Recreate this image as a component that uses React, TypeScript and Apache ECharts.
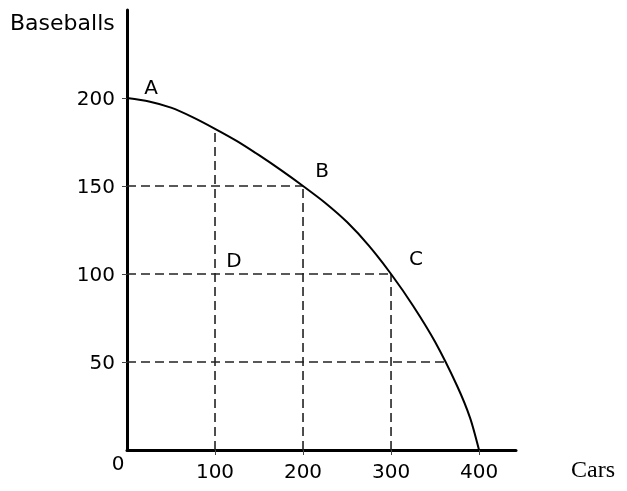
import React, { useEffect, useRef } from "react";
import * as echarts from "echarts";

// Production possibilities frontier
const curveX = [0, 25, 50, 75, 100, 125, 150, 175, 200, 225, 250, 275, 300, 325, 350, 375, 390, 400];
const curveY = [200, 198, 194.5, 189, 182.5, 175.5, 167.5, 159, 150, 140.5, 129.5, 116, 100, 82, 61.5, 36.5, 18, 0];

// Labelled points
const pointNames = ["A", "B", "C", "D"];
const pointX = [0, 200, 300, 100];
const pointY = [200, 150, 100, 100];

// Dashed guides
const verticalGuideX = [100, 200, 300];
const verticalGuideTop = [182.5, 150, 100];
const horizontalGuideY = [150, 100, 50];
const horizontalGuideEnd = [200, 300, 362];

// Tick labels
const xTicks = [100, 200, 300, 400];
const yTicks = [50, 100, 150, 200];

const FONT = "DejaVu Sans";

export default function App() {
  const ref = useRef<HTMLDivElement>(null);
  useEffect(() => {
    if (!ref.current) return;
    const chart = echarts.init(ref.current, undefined, { renderer: "svg" });
    const labelOffsets: Record<string, number[]> = {
      A: [24, -13],
      B: [19, -18],
      C: [25, -18],
      D: [19, -16],
    };
    const dashStyle = { color: "#222", width: 1.6, type: [9, 5] as any };
    const guides: any[] = [];
    verticalGuideX.forEach((x, i) => {
      guides.push({
        type: "line",
        data: [[x, 0], [x, verticalGuideTop[i]]],
        symbol: "none",
        lineStyle: dashStyle,
        silent: true,
        z: 1,
      });
    });
    horizontalGuideY.forEach((y, i) => {
      guides.push({
        type: "line",
        data: [[0, y], [horizontalGuideEnd[i], y]],
        symbol: "none",
        lineStyle: dashStyle,
        silent: true,
        z: 1,
      });
    });
    chart.setOption({
      animation: false,
      grid: { left: 127, right: 111, top: 10, bottom: 41, containLabel: false },
      xAxis: {
        type: "value",
        min: 0,
        max: 442,
        interval: 100,
        splitLine: { show: false },
        axisLine: { show: true, lineStyle: { color: "#000", width: 3 } },
        axisTick: {
          show: true,
          length: 5,
          customValues: xTicks,
          lineStyle: { color: "#444", width: 1 },
        },
        axisLabel: {
          customValues: xTicks,
          margin: 11,
          color: "#000",
          fontFamily: FONT,
          fontSize: 20,
          formatter: (v: number) => (xTicks.includes(v) ? String(v) : ""),
        },
      },
      yAxis: {
        type: "value",
        min: 0,
        max: 250,
        interval: 50,
        splitLine: { show: false },
        axisLine: { show: true, lineStyle: { color: "#000", width: 3 } },
        axisTick: {
          show: true,
          length: 5,
          customValues: yTicks,
          lineStyle: { color: "#444", width: 1 },
        },
        axisLabel: {
          customValues: yTicks,
          margin: 12,
          color: "#000",
          fontFamily: FONT,
          fontSize: 20,
          formatter: (v: number) => (yTicks.includes(v) ? String(v) : ""),
        },
      },
      graphic: [
        {
          type: "text",
          x: 10,
          y: 22,
          style: {
            text: "Baseballs",
            font: `22px '${FONT}'`,
            fill: "#000",
            align: "left",
            verticalAlign: "middle",
          },
        },
        {
          type: "text",
          x: 118,
          y: 463,
          style: {
            text: "0",
            font: `20px '${FONT}'`,
            fill: "#000",
            align: "center",
            verticalAlign: "middle",
          },
        },
        {
          type: "text",
          x: 571,
          y: 469,
          style: {
            text: "Cars",
            font: "24px 'Liberation Serif'",
            fill: "#000",
            align: "left",
            verticalAlign: "middle",
          },
        },
      ],
      series: [
        ...guides,
        {
          type: "line",
          data: curveX.map((x, i) => [x, curveY[i]]),
          smooth: 0.25,
          symbol: "none",
          lineStyle: { color: "#000", width: 2 },
          silent: true,
          z: 3,
        },
        {
          type: "scatter",
          symbol: "circle",
          symbolSize: 1,
          itemStyle: { color: "#000", opacity: 0 },
          silent: true,
          z: 4,
          label: {
            show: true,
            position: "top",
            distance: 0,
            fontFamily: FONT,
            fontSize: 20,
            color: "#000",
            opacity: 1,
            textBorderWidth: 0,
            formatter: (p: any) => p.name,
          },
          data: pointNames.map((n, i) => ({
            name: n,
            value: [pointX[i], pointY[i]],
            label: { offset: [labelOffsets[n][0], labelOffsets[n][1] + 12] },
          })),
        },
      ],
    });
    return () => chart.dispose();
  }, []);
  return (
    <div
      ref={ref}
      style={{ position: "fixed", left: 0, top: 0, width: 627, height: 491 }}
    />
  );
}
